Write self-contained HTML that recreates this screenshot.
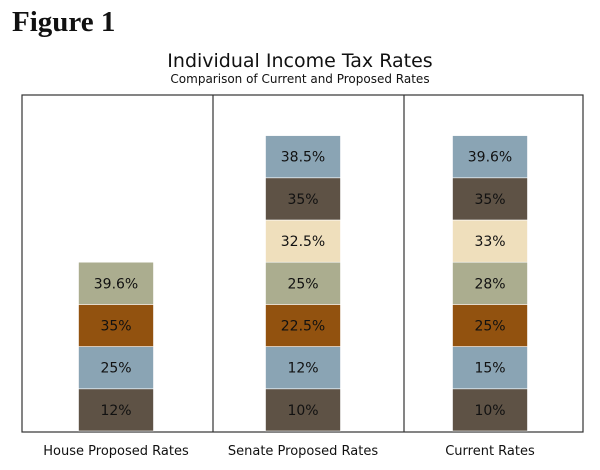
<!DOCTYPE html>
<html><head><meta charset="utf-8"><style>
body{margin:0;background:#fff;width:600px;height:470px;overflow:hidden}
svg{display:block}
</style></head><body>
<svg width="600" height="470" id="c">
<text x="12" y="31" font-family="Liberation Serif, serif" font-weight="bold" font-size="29" fill="#111">Figure 1</text>
<text x="300" y="67" text-anchor="middle" font-family="DejaVu Sans, sans-serif" font-size="19" fill="#111">Individual Income Tax Rates</text>
<text x="300" y="83" text-anchor="middle" font-family="DejaVu Sans, sans-serif" font-size="12" fill="#111">Comparison of Current and Proposed Rates</text>
<rect x="22" y="95" width="561" height="337" fill="none" stroke="#333" stroke-width="1.2"/>
<line x1="213" y1="95" x2="213" y2="432" stroke="#333" stroke-width="1.2"/>
<line x1="404" y1="95" x2="404" y2="432" stroke="#333" stroke-width="1.2"/>
<g id="bars"></g>
</svg>
<script>
const categories=["House Proposed Rates","Senate Proposed Rates","Current Rates"];
const houseRates=["12%","25%","35%","39.6%"];
const senateRates=["10%","12%","22.5%","25%","32.5%","35%","38.5%"];
const currentRates=["10%","15%","25%","28%","33%","35%","39.6%"];
const houseColors=["#5e5245","#8aa4b4","#92520f","#abad8f"];
const otherColors=["#5e5245","#8aa4b4","#92520f","#abad8f","#efdfbc","#5e5245","#8aa4b4"];
const series=[houseRates,senateRates,currentRates];
const NS="http://www.w3.org/2000/svg";
const g=document.getElementById("bars");
const centers=[116,303,490],segH=42.2,baseY=431,barW=75;
function yPos(i){return baseY-(i+1)*segH;}
series.forEach((vals,ci)=>{
  const cols=ci===0?houseColors:otherColors;
  vals.forEach((v,i)=>{
    const r=document.createElementNS(NS,"rect");
    
    
    r.setAttribute("x",centers[ci]-barW/2);r.setAttribute("y",yPos(i));
    r.setAttribute("width",barW);r.setAttribute("height",segH);
    r.setAttribute("fill",cols[i]);r.setAttribute("stroke","#fff");r.setAttribute("stroke-width","0.6");
    g.appendChild(r);
    const t=document.createElementNS(NS,"text");
    
    
    t.setAttribute("x",centers[ci]);t.setAttribute("y",yPos(i)+segH/2+5);
    t.setAttribute("text-anchor","middle");t.setAttribute("font-family","DejaVu Sans, sans-serif");
    t.setAttribute("font-size","14");t.setAttribute("fill","#111");
    t.textContent=v;g.appendChild(t);
  });
  const l=document.createElementNS(NS,"text");
  
  
  l.setAttribute("x",centers[ci]);l.setAttribute("y",455);l.setAttribute("text-anchor","middle");
  l.setAttribute("font-family","DejaVu Sans, sans-serif");l.setAttribute("font-size","13");l.setAttribute("fill","#111");
  l.textContent=categories[ci];g.appendChild(l);
});
</script>
</body></html>
